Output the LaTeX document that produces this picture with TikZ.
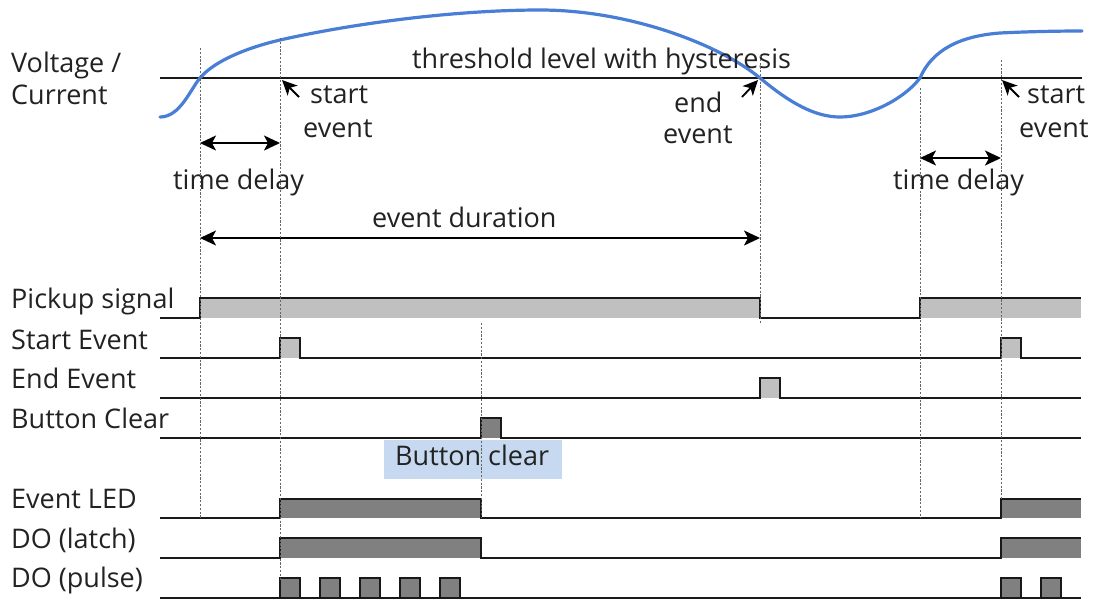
\documentclass[tikz,border=0pt]{standalone}
\usepackage{fontspec}
\setmainfont{Open Sans}
\usetikzlibrary{arrows.meta}
\definecolor{curveblue}{RGB}{72,126,214}
\definecolor{lightfill}{RGB}{192,192,192}
\definecolor{darkfill}{RGB}{128,128,128}
\definecolor{notebox}{RGB}{198,217,240}
\definecolor{inktext}{RGB}{34,34,34}
\begin{document}
\begin{tikzpicture}[x=1pt,y=-1pt,
  sig/.style={line width=1.6pt,draw=black!90,line join=miter},
  guide/.style={draw=black!60,line width=1pt,dash pattern=on 2.2pt off 1.6pt},
  dimarrow/.style={line width=1.7pt,{Stealth[length=16pt,width=15pt,inset=4pt]}-{Stealth[length=16pt,width=15pt,inset=4pt]}},
  pointer/.style={line width=1.8pt,-{Stealth[length=15pt,width=14pt,inset=4pt]}},
  lab/.style={anchor=base west,inner sep=0pt,text=inktext,font=\fontsize{27}{32}\selectfont}]
\useasboundingbox (0,0) rectangle (1100,598);

% ---------- analogue part ----------
\draw[line width=1.6pt,black!90] (160,78) -- (1082,78);
\draw[curveblue,line width=3.2pt,line cap=round]
  (160,117) .. controls (180,117) and (190,90) .. (200,78)
  .. controls (215,60) and (250,47) .. (280,40)
  .. controls (360,22) and (460,10) .. (540,10)
  .. controls (630,10) and (720,45) .. (760,78)
  .. controls (790,103) and (815,117) .. (840,117)
  .. controls (870,117) and (905,98) .. (920,78)
  .. controls (932,50) and (960,36) .. (1000,33)
  .. controls (1030,31.5) and (1060,31) .. (1082,31);

\node[lab] (vc1) at (11,72) {Voltage /};
\node[lab] (vc2) at (11,104) {Current};
\node[lab] (thr) at (412,68) {threshold level with hysteresis};

% start / end event pointers
\coordinate (s1tip) at (282,80);
\coordinate (s1tail) at (299,97);
\draw[pointer] (s1tail) -- (s1tip);
\node[lab] (s1a) at (310,103) {start};
\node[lab] (s1b) at (303,137) {event};

\coordinate (e1tip) at (758,80);
\coordinate (e1tail) at (742,97);
\draw[pointer] (e1tail) -- (e1tip);
\node[lab] (e1a) at (674,112) {end};
\node[lab] (e1b) at (663,143) {event};

\coordinate (s2tip) at (1002,80);
\coordinate (s2tail) at (1019,97);
\draw[pointer] (s2tail) -- (s2tip);
\node[lab] (s2a) at (1027,103) {start};
\node[lab] (s2b) at (1019,137) {event};

% dimension arrows
\coordinate (td1a) at (200,143);
\coordinate (td1b) at (280,143);
\draw[dimarrow] (td1a) -- (td1b);
\node[lab] (td1) at (173,189) {time delay};

\coordinate (td2a) at (920,158);
\coordinate (td2b) at (1001,158);
\draw[dimarrow] (td2a) -- (td2b);
\node[lab] (td2) at (893,189) {time delay};

\coordinate (dura) at (200,238);
\coordinate (durb) at (760,238);
\draw[dimarrow] (dura) -- (durb);
\node[lab] (dur) at (372,227) {event duration};

% ---------- digital signals ----------
\node[lab] (l1) at (11,308) {Pickup signal};
\node[lab] (l2) at (11,349) {Start Event};
\node[lab] (l3) at (11,388) {End Event};
\node[lab] (l4) at (11,428) {Button Clear};
\node[lab] (l5) at (11,508) {Event LED};
\node[lab] (l6) at (11,548) {DO (latch)};
\node[lab] (l7) at (11,587) {DO (pulse)};

% pickup
\fill[lightfill] (200,298) rectangle (760,318);
\fill[lightfill] (920,298) rectangle (1081,318);
\draw[sig] (160,318) -- (200,318) -- (200,298) -- (760,298) -- (760,318) -- (920,318) -- (920,298) -- (1081,298);

% start event
\fill[lightfill] (280,338) rectangle (300,358);
\fill[lightfill] (1001,338) rectangle (1021,358);
\draw[sig] (160,358) -- (280,358) -- (280,338) -- (300,338) -- (300,358) -- (1001,358) -- (1001,338) -- (1021,338) -- (1021,358) -- (1081,358);

% end event
\fill[lightfill] (760,378) rectangle (780,398);
\draw[sig] (160,398) -- (760,398) -- (760,378) -- (780,378) -- (780,398) -- (1081,398);

% button clear
\fill[darkfill] (481,418) rectangle (501,438);
\draw[sig] (160,438) -- (481,438) -- (481,418) -- (501,418) -- (501,438) -- (1081,438);

\fill[notebox] (383.5,440) rectangle (561.5,479);
\node[lab] (bc) at (395,465) {Button clear};

% event LED
\fill[darkfill] (280,499) rectangle (481,518);
\fill[darkfill] (1001,499) rectangle (1081,518);
\draw[sig] (160,518) -- (280,518) -- (280,499) -- (481,499) -- (481,518) -- (1001,518) -- (1001,499) -- (1081,499);

% DO latch
\fill[darkfill] (280,538) rectangle (481,558);
\fill[darkfill] (1001,538) rectangle (1081,558);
\draw[sig] (160,558) -- (280,558) -- (280,538) -- (481,538) -- (481,558) -- (1001,558) -- (1001,538) -- (1081,538);

% DO pulse
\foreach \px in {280,320,360,400,440,1001,1041}{
  \fill[darkfill] (\px,578) rectangle (\px+20,598);
  \draw[sig] (\px,598) -- (\px,578) -- (\px+20,578) -- (\px+20,598);
}
\draw[sig] (160,598) -- (1081,598);

% ---------- time markers ----------
\draw[guide] (200,48) -- (200,518);
\draw[guide] (280,38) -- (280,580);
\draw[guide] (481,323) -- (481,518);
\draw[guide] (760,55) -- (760,323);
\draw[guide] (920,88) -- (920,518);
\draw[guide] (1001,60) -- (1001,500);
\end{tikzpicture}
\end{document}
